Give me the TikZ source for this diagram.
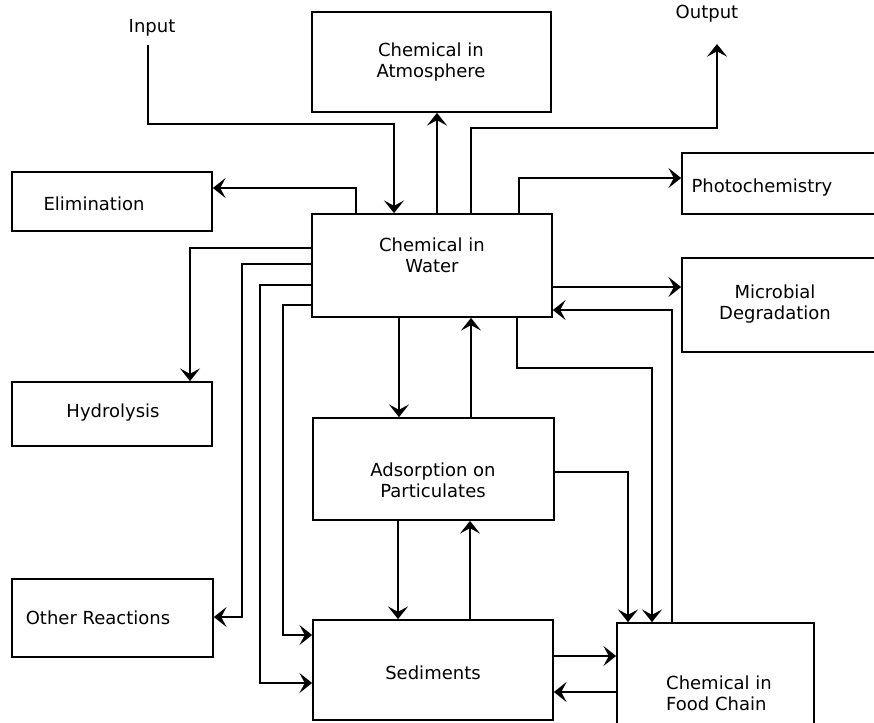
\documentclass[tikz,border=0pt]{standalone}
\usepackage{fontspec}
\setmainfont{DejaVu Sans}
\usetikzlibrary{arrows.meta,fit}
\tikzset{bigtip/.tip={Stealth[length=9.5pt,width=15pt,inset=4pt]}}
\begin{document}
\begin{tikzpicture}[x=0.75pt,y=-0.75pt,
  box/.style={draw, line width=1.3pt, inner sep=0pt},
  txt/.style={font=\fontsize{13.5}{16}\selectfont, align=center, inner sep=1pt},
  arr/.style={line width=1.3pt, -bigtip},
  ln/.style={line width=1.3pt}]
\useasboundingbox (0,0) rectangle (874,722);
% boxes
\node[box, fit={(312,12) (551,112)}] (atm) {};
\node[box, fit={(312,214) (552,317)}] (water) {};
\node[box, fit={(12,172) (212,231)}] (elim) {};
\node[box, fit={(12,382) (212,446)}] (hydro) {};
\node[box, fit={(12,579) (213,657)}] (other) {};
\node[box, fit={(682,153) (884,214)}] (photo) {};
\node[box, fit={(682,258) (884,352)}] (micro) {};
\node[box, fit={(313,418) (554,520)}] (ads) {};
\node[box, fit={(313,620) (553,720)}] (sed) {};
\node[box, fit={(617,623) (814,735)}] (food) {};
% texts
\node[txt] (tatm) at (431,62) {Chemical in\\Atmosphere};
\node[txt] (twater) at (432,255) {Chemical in\\Water};
\node[txt] (telim) at (94,204) {Elimination};
\node[txt] (thydro) at (113,413) {Hydrolysis};
\node[txt] (tother) at (98,618) {Other Reactions};
\node[txt] (tphoto) at (762,188) {Photochemistry};
\node[txt] (tmicro) at (775,304) {Microbial\\Degradation};
\node[txt] (tads) at (433,480) {Adsorption on\\Particulates};
\node[txt] (tsed) at (433,673) {Sediments};
\node[txt, align=left] (tfood) at (719,693) {Chemical in\\Food Chain};
\node[txt] (input) at (152,28) {Input};
\node[txt] (output) at (707,14) {Output};
\coordinate (inStart) at (148,45);
\coordinate (outTip) at (717,44);
% connectors
\draw[arr] (inStart) |- (394,124) -- (394,0 |- water.north);
\draw[arr] (437,0 |- water.north) -- (437,0 |- atm.south);
\draw[arr] (471,0 |- water.north) |- (717,128) -- (outTip);
\draw[arr] (356,0 |- water.north) |- (elim.east |- 0,188);
\draw[arr] (519,0 |- water.north) |- (photo.west |- 0,178);
\draw[arr] (water.east |- 0,287) -- (micro.west |- 0,287);
\draw[arr] (672,0 |- food.north) |- (water.east |- 0,310);
\draw[arr] (517,0 |- water.south) |- (652,368) -- (652,0 |- food.north);
\draw[arr] (ads.east |- 0,472) -| (628,0 |- food.north);
\draw[arr] (399,0 |- water.south) -- (399,0 |- ads.north);
\draw[arr] (471,0 |- ads.north) -- (471,0 |- water.south);
\draw[arr] (398,0 |- ads.south) -- (398,0 |- sed.north);
\draw[arr] (470,0 |- sed.north) -- (470,0 |- ads.south);
\draw[arr] (sed.east |- 0,656) -- (food.west |- 0,656);
\draw[arr] (food.west |- 0,692) -- (sed.east |- 0,692);
\draw[arr] (water.west |- 0,248) -| (190,0 |- hydro.north);
\draw[arr] (water.west |- 0,264) -| (242,617) -- (other.east |- 0,617);
\draw[arr] (water.west |- 0,285) -| (260,683) -- (sed.west |- 0,683);
\draw[arr] (water.west |- 0,305) -| (283,635) -- (sed.west |- 0,635);
\end{tikzpicture}
\end{document}
